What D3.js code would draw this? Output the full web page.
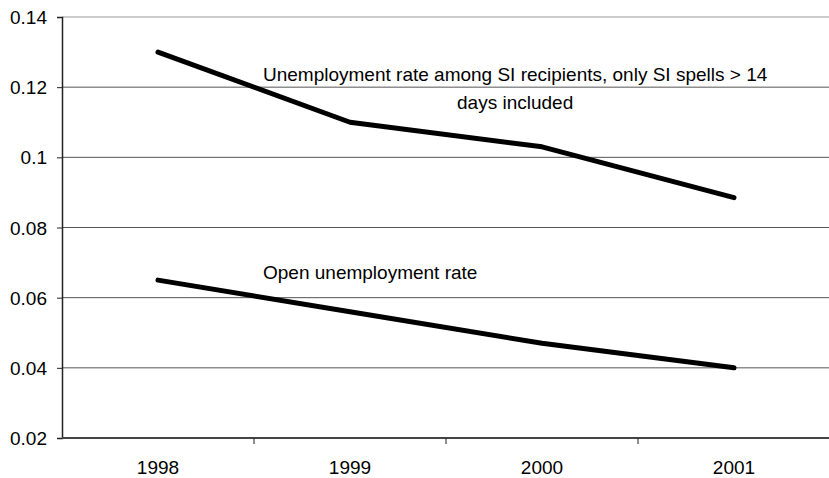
<!DOCTYPE html>
<html>
<head>
<meta charset="utf-8">
<script src="https://cdn.jsdelivr.net/npm/d3@7"></script>
<style>
  body { margin: 0; background: #fff; }
  text { font-family: "Liberation Sans", Arial, sans-serif; }
</style>
</head>
<body>
<div id="chart"></div>
<script>
// Data
const years = ["1998", "1999", "2000", "2001"];
const siRate = [0.130, 0.110, 0.103, 0.0885];
const openRate = [0.065, 0.056, 0.047, 0.040];
const yTicks = [0.02, 0.04, 0.06, 0.08, 0.1, 0.12, 0.14];

const width = 829;
const height = 478;
const marginTop = 17;
const marginBottom = 40;
const marginLeft = 62;
const fontSize = "19px";

const x = d3.scaleBand()
    .domain(years)
    .range([marginLeft, marginLeft + 4 * 192]);

const y = d3.scaleLinear()
    .domain([0.02, 0.14])
    .range([height - marginBottom, marginTop]);

const svg = d3.select("#chart").append("svg")
    .attr("width", width)
    .attr("height", height);

// horizontal gridlines
svg.append("g")
  .selectAll("line")
  .data(yTicks.slice(1))
  .join("line")
    .attr("x1", marginLeft)
    .attr("x2", width)
    .attr("y1", d => y(d))
    .attr("y2", d => y(d))
    .attr("stroke", d => d === 0.14 ? "#999" : "#555")
    .attr("stroke-width", 1);

// y axis
svg.append("g")
    .attr("transform", `translate(${marginLeft},0)`)
    .call(d3.axisLeft(y).tickValues(yTicks).tickSize(5).tickPadding(10)
      .tickFormat(d => String(+d.toFixed(2))))
    .call(g => g.select(".domain").attr("stroke", "#222").attr("stroke-width", 1.5))
    .call(g => g.selectAll(".tick line").attr("stroke", "#222"))
    .call(g => g.selectAll("text")
      .style("font-size", fontSize)
      .attr("fill", "#000")
      .attr("dy", "0.35em"));

// x axis: category labels with separator ticks between them
svg.append("g")
    .attr("transform", `translate(0,${height - marginBottom})`)
    .call(g => g.append("line")
      .attr("x1", marginLeft).attr("x2", width)
      .attr("stroke", "#444").attr("stroke-width", 2))
    .call(g => g.selectAll(".sep")
      .data(years.slice(1))
      .join("line")
        .attr("class", "sep")
        .attr("x1", d => x(d)).attr("x2", d => x(d))
        .attr("y1", 0).attr("y2", 6)
        .attr("stroke", "#222"))
    .call(g => g.selectAll(".lbl")
      .data(years)
      .join("text")
        .attr("class", "lbl")
        .attr("x", d => x(d) + x.bandwidth() / 2)
        .attr("y", 36)
        .attr("text-anchor", "middle")
        .style("font-size", fontSize)
        .text(d => d));

const line = d3.line()
    .x((d, i) => x(years[i]) + x.bandwidth() / 2)
    .y(d => y(d));

[siRate, openRate].forEach(s => {
  svg.append("path")
      .datum(s)
      .attr("fill", "none")
      .attr("stroke", "#000")
      .attr("stroke-width", 5)
      .attr("stroke-linejoin", "round")
      .attr("stroke-linecap", "round")
      .attr("d", line);
});

// series labels
const lab1 = svg.append("text")
    .attr("x", 263)
    .attr("y", 81)
    .style("font-size", fontSize)
    .text("Unemployment rate among SI recipients, only SI spells > 14");
const w1 = lab1.node().getComputedTextLength();
svg.append("text")
    .attr("x", 263 + w1 / 2)
    .attr("y", 109)
    .attr("text-anchor", "middle")
    .style("font-size", fontSize)
    .text("days included");
svg.append("text")
    .attr("x", 263)
    .attr("y", 279)
    .style("font-size", fontSize)
    .text("Open unemployment rate");
</script>
</body>
</html>
